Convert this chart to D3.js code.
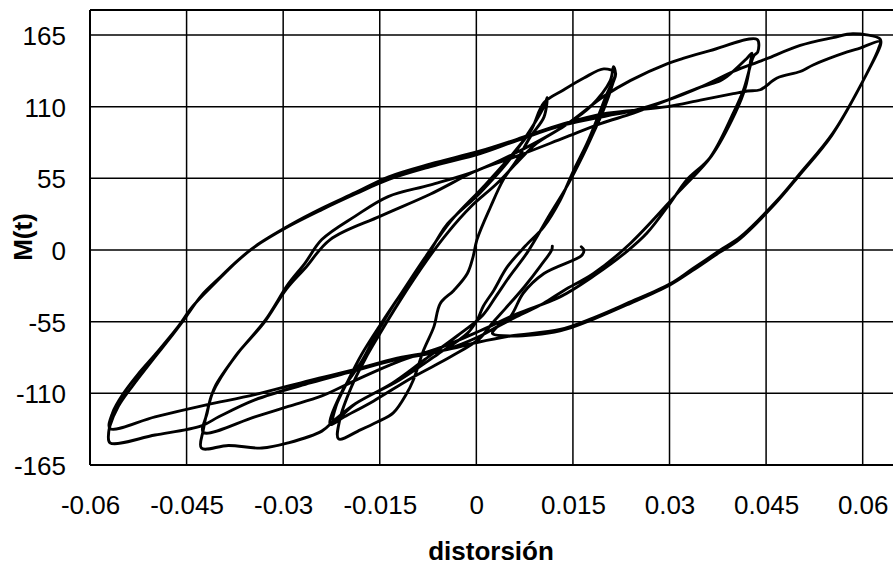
<!DOCTYPE html>
<html><head><meta charset="utf-8">
<script src="https://cdn.jsdelivr.net/npm/d3@7"></script>
<style>html,body{margin:0;padding:0;background:#fff;overflow:hidden}</style>
</head><body>
<script>
// axis ticks
const xTicks = [-0.06, -0.045, -0.03, -0.015, 0, 0.015, 0.03, 0.045, 0.06];
const yTicks = [-165, -110, -55, 0, 55, 110, 165];
const xLabel = "distorsión";
const yLabel = "M(t)";

// hysteresis record [distorsión, M], traced in load-step order
const segStart = [[0.0118,3],[0.0117,0],[0.0100,-12],[0.0075,-28],[0.0045,-45],[0.0025,-56],[0.0005,-68],[-0.004,-82],[-0.010,-98],[-0.016,-116],[-0.0205,-128],[-0.0227,-134]];
const segP1 = [[-0.0207,-107],[-0.018,-87],[-0.0149,-59],[-0.0123,-38],[-0.0092,-18],[-0.0061,8],[-0.0045,20],[0.0006,44],[0.0048,67],[0.0073,84],[0.0105,110],[0.0110,117]];
const segN1b = [[0.0105,102],[0.0084,87],[0.0063,69],[0.0042,54],[0.0022,33],[0.0001,8],[-0.0005,-5],[-0.0014,-18],[-0.0035,-31],[-0.0056,-41],[-0.0066,-59],[-0.0082,-77],[-0.0098,-100],[-0.0108,-110],[-0.0129,-125],[-0.0154,-132],[-0.018,-138],[-0.0214,-145]];
const segP2a = [[-0.0212,-130],[-0.0194,-105],[-0.0173,-84],[-0.0152,-66],[-0.012,-40],[-0.0077,-8],[-0.0045,13],[-0.0009,33],[0.0032,51],[0.0063,67],[0.0094,82],[0.0136,95],[0.0177,110],[0.0208,130],[0.0213,140.6]];
const segN1c = [[0.0216,135],[0.0203,120],[0.0187,100],[0.0172,82],[0.0151,61],[0.013,38],[0.0105,18],[0.0076,3],[0.0048,-13],[0.0027,-31],[0.0011,-43],[0.0001,-54],[-0.0014,-64],[-0.006,-80],[-0.012,-100],[-0.0188,-118],[-0.0222,-132]];
const segP2b = [[-0.0218,-120],[-0.0201,-102],[-0.0178,-80],[-0.0146,-55],[-0.0115,-32],[-0.008,-6],[-0.004,22],[0.001,48],[0.005,70],[0.0085,92],[0.0105,113],[0.0136,123],[0.0167,132],[0.0198,139],[0.0216,136]];
const segN2a = [[0.0212,128],[0.0198,108],[0.0182,90],[0.0165,72],[0.0142,50],[0.0115,28],[0.0079,-2],[0.0052,-20],[0.003,-36],[0.001,-50],[-0.003,-66],[-0.008,-84],[-0.013,-102],[-0.0188,-118],[-0.0219,-130],[-0.024,-139],[-0.0292,-148],[-0.0333,-152],[-0.0385,-150],[-0.0427,-152]];
const segP3a = [[-0.0424,-138],[-0.0416,-120],[-0.0406,-105],[-0.037,-79],[-0.0328,-54],[-0.0292,-26],[-0.0266,-10],[-0.024,8],[-0.0188,26],[-0.0137,41],[-0.0071,50],[0.0001,61],[0.0063,75],[0.0136,95],[0.0198,118],[0.0239,130],[0.0297,143],[0.0321,147],[0.0363,153],[0.0436,161.6]];
const segN2b = [[0.0437,152],[0.0431,149],[0.0415,123],[0.0399,105],[0.0363,71],[0.0327,54],[0.0301,36],[0.0265,13],[0.0234,-1],[0.0182,-20],[0.013,-36],[0.0063,-49],[0.0006,-62],[-0.0051,-74],[-0.0123,-86],[-0.0188,-100],[-0.024,-112],[-0.0292,-120],[-0.0344,-128],[-0.0424,-140]];
const segP3b = [[-0.0418,-125],[-0.041,-110],[-0.0375,-82],[-0.033,-56],[-0.0295,-30],[-0.0266,-14],[-0.0227,8],[-0.0149,26],[-0.0071,43],[0.0001,61],[0.0063,72],[0.0136,86],[0.0193,97],[0.0244,105],[0.0297,115],[0.0348,125],[0.0379,130],[0.0389,133],[0.042,147],[0.0428,151]];
const segN3a = [[0.0426,145],[0.0418,125],[0.0402,105],[0.0365,72],[0.0315,45],[0.0239,5],[0.0182,-18],[0.0136,-31],[0.0104,-41],[0.0063,-51],[0.0032,-59],[0.0006,-66],[-0.0051,-77],[-0.0123,-84],[-0.0191,-93],[-0.0258,-102],[-0.0344,-115],[-0.040,-128],[-0.0427,-135],[-0.0499,-142],[-0.0569,-148]];
const segP4a = [[-0.0571,-140],[-0.0569,-135],[-0.0556,-120],[-0.0535,-105],[-0.0499,-82],[-0.0478,-69],[-0.0452,-52],[-0.0427,-35],[-0.0396,-20],[-0.0375,-10],[-0.0344,2.5],[-0.0292,18],[-0.024,31],[-0.0188,43],[-0.0137,54],[-0.0071,64],[0.0006,74],[0.0063,84],[0.0136,96],[0.0203,103],[0.0244,107],[0.0297,115],[0.0348,125],[0.0399,137],[0.0436,144],[0.0452,147],[0.0503,157],[0.0554,163],[0.0585,166],[0.0627,162]];
const segN3b = [[0.0628,158],[0.0607,136],[0.0554,90],[0.0503,59],[0.0467,38],[0.041,10],[0.0379,0],[0.0337,-14],[0.0301,-26],[0.0234,-41],[0.0182,-52],[0.013,-61],[0.0053,-66],[0.0001,-71],[-0.0051,-77],[-0.0123,-83],[-0.0191,-92],[-0.0258,-100],[-0.0344,-111],[-0.0421,-119],[-0.0499,-128],[-0.0569,-137]];
const segP4b = [[-0.0565,-125],[-0.0548,-110],[-0.0525,-95],[-0.0495,-78],[-0.0465,-60],[-0.044,-43],[-0.0405,-25],[-0.037,-8],[-0.034,4],[-0.029,19],[-0.024,32],[-0.0188,44],[-0.0137,56],[-0.0071,66],[0.0006,76],[0.0063,85],[0.0136,97],[0.0203,105],[0.0239,107],[0.0297,110],[0.0348,115],[0.0399,120],[0.0421,122],[0.0441,123],[0.0467,132],[0.0503,137],[0.0523,142],[0.0576,152],[0.0596,155],[0.0627,160]];
const segEnd = [[0.0625,155],[0.0605,134],[0.0552,88],[0.0501,57],[0.0465,36],[0.0408,8],[0.0377,-2],[0.0335,-16],[0.030,-27],[0.0234,-42],[0.0182,-53],[0.013,-62],[0.0053,-66],[0.0025,-64],[0.0032,-59],[0.0053,-51],[0.0073,-33],[0.0105,-18],[0.0164,-4],[0.0167,0],[0.0163,2.5]];

const record = [].concat(segStart, segP1, segN1b, segP2a, segN1c, segP2b, segN2a, segP3a, segN2b, segP3b, segN3a, segP4a, segN3b, segP4b, segEnd);

const W = 893, H = 565;
const svg = d3.select("body").append("svg").attr("width", W).attr("height", H);
const x = d3.scaleLinear().domain([-0.06, 0.0655]).range([90, 898.1]);
const y = d3.scaleLinear().domain([-165, 184.2]).range([465, 10]);
const font = "'Liberation Sans', Arial, sans-serif";

// grid
const g = svg.append("g");
g.selectAll(".gx").data(xTicks).enter().append("line")
  .attr("x1", d => x(d)).attr("x2", d => x(d)).attr("y1", y(184.2)).attr("y2", y(-165))
  .attr("stroke", "#000").attr("stroke-width", 1.5);
g.selectAll(".gy").data(yTicks).enter().append("line")
  .attr("x1", x(-0.06)).attr("x2", W + 10).attr("y1", d => y(d)).attr("y2", d => y(d))
  .attr("stroke", "#000").attr("stroke-width", 1.5);
// border
g.append("line").attr("x1", x(-0.06)).attr("x2", W + 10).attr("y1", y(184.2)).attr("y2", y(184.2)).attr("stroke", "#000").attr("stroke-width", 2);
g.append("line").attr("x1", x(-0.06)).attr("x2", W + 10).attr("y1", y(-165)).attr("y2", y(-165)).attr("stroke", "#000").attr("stroke-width", 2);
g.append("line").attr("x1", x(-0.06)).attr("x2", x(-0.06)).attr("y1", y(184.2)).attr("y2", y(-165)).attr("stroke", "#000").attr("stroke-width", 2);

// axes labels via d3 axes
const fmtX = d => (d === 0 ? "0" : String(+d.toFixed(3)));
const xAxis = d3.axisBottom(x).tickValues(xTicks).tickFormat(fmtX).tickSize(0).tickPadding(0);
const xa = svg.append("g").attr("transform", `translate(0,${y(-165)})`).call(xAxis);
xa.select(".domain").remove();
xa.selectAll("text").attr("font-family", font).attr("font-size", 26).attr("fill", "#000")
  .attr("dy", null).attr("y", 49);

const yAxis = d3.axisLeft(y).tickValues(yTicks).tickFormat(d => String(d)).tickSize(0).tickPadding(0);
const ya = svg.append("g").attr("transform", `translate(66,0)`).call(yAxis);
ya.select(".domain").remove();
ya.selectAll("text").attr("font-family", font).attr("font-size", 26).attr("fill", "#000")
  .attr("dy", null).attr("y", 9.5).attr("x", 0);

// data line
const line = d3.line().x(d => x(d[0])).y(d => y(d[1])).curve(d3.curveCatmullRom.alpha(0.5));
svg.append("path").datum(record).attr("d", line)
  .attr("fill", "none").attr("stroke", "#000").attr("stroke-width", 2.9)
  .attr("stroke-linejoin", "round").attr("stroke-linecap", "round");

// titles
svg.append("text").attr("x", 491).attr("y", 560).attr("text-anchor", "middle")
  .attr("font-family", font).attr("font-size", 26).attr("font-weight", "bold").text(xLabel);
svg.append("text").attr("transform", "translate(32,237) rotate(-90)").attr("text-anchor", "middle")
  .attr("font-family", font).attr("font-size", 26).attr("font-weight", "bold").text(yLabel);
</script>
</body></html>
